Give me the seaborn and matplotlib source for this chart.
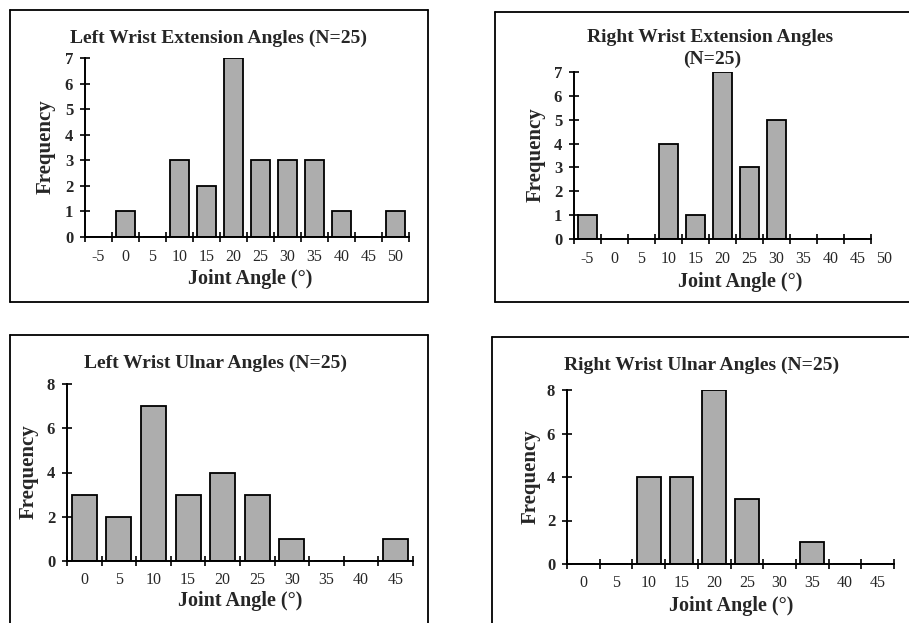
import numpy as np
import pandas as pd
import matplotlib
matplotlib.use("Agg")
import matplotlib.pyplot as plt
from matplotlib.lines import Line2D
import seaborn as sns

# ---- data ----
ext_angles = ["-5", "0", "5", "10", "15", "20", "25", "30", "35", "40", "45", "50"]
left_ext = [0, 1, 0, 3, 2, 7, 3, 3, 3, 1, 0, 1]
right_ext = [1, 0, 0, 4, 1, 7, 3, 5, 0, 0, 0, 0]
uln_angles = ["0", "5", "10", "15", "20", "25", "30", "35", "40", "45"]
left_uln = [3, 2, 7, 3, 4, 3, 1, 0, 0, 1]
right_uln = [0, 0, 4, 4, 8, 3, 0, 1, 0, 0]

titles = ["Left Wrist Extension Angles (N=25)",
          "Right Wrist Extension Angles",
          "(N=25)",
          "Left Wrist Ulnar Angles (N=25)",
          "Right Wrist Ulnar Angles (N=25)"]
xlab = "Joint Angle (°)"
ylab = "Frequency"

sns.set_style("white")
plt.rcParams['font.family'] = ['Liberation Serif', 'DejaVu Serif']

W, H = 909, 623
fig = plt.figure(figsize=(W / 100, H / 100), dpi=100)

BAR = "#adadad"

def px_axes(l, r, top, bottom):
    return fig.add_axes([l / W, 1 - bottom / H, (r - l) / W, (bottom - top) / H])

def ftext(x, y, s, **kw):
    fig.text(x / W, 1 - y / H, s, ha="center", va="center", **kw)

def panel(ax, cats, vals, ymax, ystep, spine_end=None, xpad=9):
    df = pd.DataFrame({"angle": cats, "freq": vals})
    sns.barplot(data=df, x="angle", y="freq", order=cats, ax=ax, color=BAR,
                edgecolor="black", linewidth=1.3, width=0.72, saturation=1)
    n = len(cats)
    ax.set_xlim(-0.5, n - 0.5)
    ax.set_ylim(0, ymax)
    for s in ["top", "right"]:
        ax.spines[s].set_visible(False)
    for s in ["left", "bottom"]:
        ax.spines[s].set_linewidth(1.4)
        ax.spines[s].set_color("black")
    end = n - 0.5 if spine_end is None else spine_end
    ax.spines["bottom"].set_bounds(-0.5, end)
    for p in ax.patches:
        if p.get_x() > end:
            p.set_visible(False)
    ax.set_xticks(range(n))
    ax.set_xticklabels(cats, fontsize=11.5)
    ax.set_xticks(np.arange(-0.5, end + 0.01, 1.0), minor=True)
    ax.tick_params(axis="x", which="major", length=0, pad=xpad, bottom=True)
    ax.tick_params(axis="x", which="minor", length=7, width=1.2,
                   direction="inout", color="black", bottom=True)
    yt = np.arange(0, ymax + 0.01, ystep)
    ax.set_yticks(yt)
    ax.set_yticklabels([str(int(v)) for v in yt], fontsize=12, fontweight="bold")
    ax.tick_params(axis="y", length=7, width=1.2, direction="inout", pad=5,
                   color="black", left=True)
    ax.set_xlabel("")
    ax.set_ylabel("")
    ax.patch.set_alpha(0)

# Panel 1
ax1 = px_axes(85, 409, 58, 237)
panel(ax1, ext_angles, left_ext, 7, 1)
ftext(218, 38, titles[0], fontsize=14, fontweight="bold")
ftext(250, 279, xlab, fontsize=14.5, fontweight="bold")
ftext(46, 147, ylab, fontsize=15, fontweight="bold", rotation=90)

# Panel 2
ax2 = px_axes(574, 898, 72, 239)
panel(ax2, ext_angles, right_ext, 7, 1, spine_end=10.5)
ftext(710, 38, titles[1], fontsize=14, fontweight="bold")
ftext(712, 59, titles[2], fontsize=14, fontweight="bold")
ftext(740, 282, xlab, fontsize=14.5, fontweight="bold")
ftext(536, 155, ylab, fontsize=15, fontweight="bold", rotation=90)

# Panel 3
ax3 = px_axes(67, 413, 384, 561)
panel(ax3, uln_angles, left_uln, 8, 2, xpad=8)
ftext(215, 363, titles[3], fontsize=14, fontweight="bold")
ftext(240, 601, xlab, fontsize=14.5, fontweight="bold")
ftext(29, 472, ylab, fontsize=15, fontweight="bold", rotation=90)

# Panel 4
ax4 = px_axes(567, 894, 390, 564)
panel(ax4, uln_angles, right_uln, 8, 2, xpad=8)
ftext(702, 365, titles[4], fontsize=14, fontweight="bold")
ftext(731, 606, xlab, fontsize=14.5, fontweight="bold")
ftext(531, 477, ylab, fontsize=15, fontweight="bold", rotation=90)

# panel frames
def fline(x0, y0, x1, y1):
    fig.add_artist(Line2D([x0 / W, x1 / W], [1 - y0 / H, 1 - y1 / H],
                          color="black", linewidth=1.3))

fline(10, 10, 428, 10); fline(10, 302, 428, 302)
fline(10, 10, 10, 302); fline(428, 10, 428, 302)
fline(495, 12, 909, 12); fline(495, 302, 909, 302); fline(495, 12, 495, 302)
fline(10, 335, 428, 335); fline(10, 335, 10, 623); fline(428, 335, 428, 623)
fline(492, 337, 909, 337); fline(492, 337, 492, 623)

fig.savefig("out.png", dpi=100)
